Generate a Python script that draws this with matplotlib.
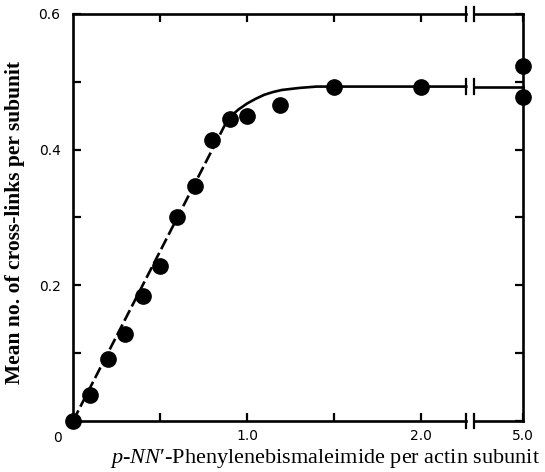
"""
Cross-linking of actin by p-NN'-phenylenebismaleimide
Mean number of cross-links per subunit vs. reagent per actin subunit
"""

import numpy as np
import matplotlib.pyplot as plt

plt.rcParams['mathtext.fontset'] = 'custom'
plt.rcParams['mathtext.it'] = 'Liberation Serif:italic'
plt.rcParams['mathtext.rm'] = 'Liberation Serif'

#----Data----
dose = np.array([0.0, 0.1, 0.2, 0.3, 0.4, 0.5, 0.6, 0.7, 0.8, 0.9, 1.0, 1.19, 1.5, 2.0, 5.0, 5.0])
links = np.array([0.0, 0.038, 0.091, 0.128, 0.184, 0.229, 0.301, 0.346, 0.414, 0.445,
                  0.450, 0.466, 0.492, 0.492, 0.523, 0.478])

# fitted curve: dashed (linear) part then solid saturating part
fit_dash_x = np.array([0.0, 0.9])
fit_dash_y = np.array([0.0, 0.45])
fit_x = np.array([0.9, 0.95, 1.0, 1.05, 1.1, 1.15, 1.2, 1.3, 1.4, 1.5, 2.0, 2.26])
fit_y = np.array([0.448, 0.459, 0.468, 0.475, 0.481, 0.485, 0.488, 0.491, 0.493, 0.493, 0.493, 0.493])
fit_tail_x = np.array([2.305, 5.0])
fit_tail_y = np.array([0.493, 0.493])

x_ticks = [0.5, 1.0, 1.5, 2.0, 5.0]
x_ticklabels = ['', '1.0', '', '2.0', '5.0']
y_ticks = [0.0, 0.1, 0.2, 0.3, 0.4, 0.5, 0.6]
y_ticklabels = ['', '', '0.2', '', '0.4', '', '0.6']

# broken x axis: everything past the break is squeezed to the right edge
BREAK_LO = 2.26
BREAK_HI = 2.305
X_RIGHT = 2.586


def to_axis(x):
    x = np.asarray(x, dtype=float)
    return np.where(x > 2.5, X_RIGHT, x)


fig = plt.figure(figsize=(5.45, 4.72), dpi=100)
ax = fig.add_axes([73 / 545, 1 - 421 / 472, 450 / 545, 407 / 472])

lw = 1.9
ax.set_xlim(0, X_RIGHT)
ax.set_ylim(0, 0.6)

# fitted line
ax.plot(to_axis(fit_dash_x), fit_dash_y, color='black', lw=lw,
        linestyle=(0, (4.5, 1.6)), solid_capstyle='butt')
ax.plot(to_axis(fit_x), fit_y, color='black', lw=lw)
ax.plot(to_axis(fit_tail_x), fit_tail_y, color='black', lw=lw, clip_on=False)

# data points
ax.plot(to_axis(dose), links, 'o', color='black', markersize=11, clip_on=False, zorder=5)

# spines: left/right normal, top/bottom drawn by hand with the break
for side in ['left', 'right']:
    ax.spines[side].set_linewidth(lw)
ax.spines['top'].set_visible(False)
ax.spines['bottom'].set_visible(False)

xt = ax.get_xaxis_transform()
for yy in [0, 1]:
    ax.plot([0, BREAK_LO], [yy, yy], color='black', lw=lw, transform=xt,
            clip_on=False, solid_capstyle='projecting')
    ax.plot([BREAK_HI, X_RIGHT], [yy, yy], color='black', lw=lw, transform=xt,
            clip_on=False, solid_capstyle='projecting')
    for bx in [BREAK_LO, BREAK_HI]:
        ax.plot([bx, bx], [yy - 0.017, yy + 0.017], color='black', lw=1.6,
                transform=xt, clip_on=False)

# break marks on the plateau line
for bx in [BREAK_LO, BREAK_HI]:
    ax.plot([bx, bx], [0.493 - 0.011, 0.493 + 0.011], color='black', lw=1.6)

# ticks
ax.set_xticks(to_axis(x_ticks))
ax.set_xticklabels(x_ticklabels)
ax.set_yticks(y_ticks)
ax.set_yticklabels(y_ticklabels)
ax.tick_params(direction='in', length=6, width=1.6, top=True, right=True,
               labelsize=10, colors='black')
ax.tick_params(axis='x', pad=6)
ax.tick_params(axis='y', pad=9)

# origin label
ax.annotate('0', xy=(0, 0), xytext=(-11, -12.5), textcoords='offset points',
            ha='center', va='center', fontsize=10)

# axis labels
fig.text(15 / 545, 1 - 223 / 472, 'Mean no. of cross-links per subunit',
         rotation=90, ha='center', va='center', fontsize=15.5,
         family='Liberation Serif', weight='bold')
fig.text(325 / 545, 1 - 459 / 472, "$p$-$NN$\u2032-Phenylenebismaleimide per actin subunit",
         ha='center', va='center', fontsize=16, family='Liberation Serif')

fig.savefig('out.png', dpi=100)
